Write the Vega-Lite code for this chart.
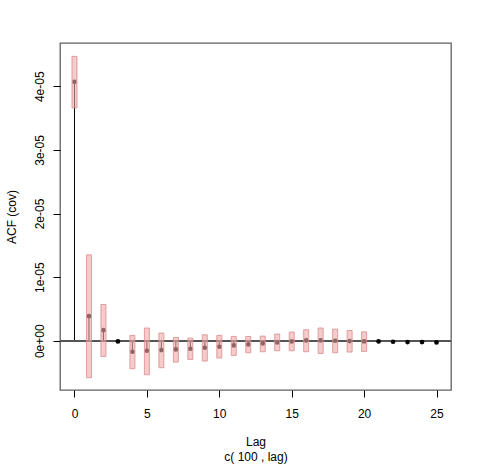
{
  "$schema": "https://vega.github.io/schema/vega-lite/v6.json",
  "width": 391,
  "height": 347,
  "autosize": {"type": "none"},
  "padding": {"left": 60, "top": 43, "right": 34, "bottom": 86},
  "background": "white",
  "config": {
    "view": {"stroke": "#606060", "strokeWidth": 1.3},
    "font": "Liberation Sans"
  },
  "data": {
    "values": [
      {"lag": 0, "acf": 4.07e-5, "lo": 3.66e-5, "hi": 4.47e-5},
      {"lag": 1, "acf": 0.387e-5, "lo": -0.58e-5, "hi": 1.35e-5},
      {"lag": 2, "acf": 0.167e-5, "lo": -0.246e-5, "hi": 0.57e-5},
      {"lag": 3, "acf": -0.01e-5, "lo": null, "hi": null},
      {"lag": 4, "acf": -0.173e-5, "lo": -0.44e-5, "hi": 0.084e-5},
      {"lag": 5, "acf": -0.157e-5, "lo": -0.534e-5, "hi": 0.2e-5},
      {"lag": 6, "acf": -0.147e-5, "lo": -0.424e-5, "hi": 0.12e-5},
      {"lag": 7, "acf": -0.136e-5, "lo": -0.335e-5, "hi": 0.052e-5},
      {"lag": 8, "acf": -0.126e-5, "lo": -0.293e-5, "hi": 0.042e-5},
      {"lag": 9, "acf": -0.11e-5, "lo": -0.319e-5, "hi": 0.094e-5},
      {"lag": 10, "acf": -0.094e-5, "lo": -0.272e-5, "hi": 0.084e-5},
      {"lag": 11, "acf": -0.073e-5, "lo": -0.23e-5, "hi": 0.068e-5},
      {"lag": 12, "acf": -0.058e-5, "lo": -0.188e-5, "hi": 0.068e-5},
      {"lag": 13, "acf": -0.042e-5, "lo": -0.173e-5, "hi": 0.073e-5},
      {"lag": 14, "acf": -0.026e-5, "lo": -0.157e-5, "hi": 0.105e-5},
      {"lag": 15, "acf": -0.01e-5, "lo": -0.157e-5, "hi": 0.136e-5},
      {"lag": 16, "acf": 0.005e-5, "lo": -0.173e-5, "hi": 0.173e-5},
      {"lag": 17, "acf": 0.005e-5, "lo": -0.2e-5, "hi": 0.2e-5},
      {"lag": 18, "acf": 0.0, "lo": -0.188e-5, "hi": 0.183e-5},
      {"lag": 19, "acf": -0.005e-5, "lo": -0.178e-5, "hi": 0.162e-5},
      {"lag": 20, "acf": -0.01e-5, "lo": -0.167e-5, "hi": 0.14e-5},
      {"lag": 21, "acf": -0.01e-5, "lo": null, "hi": null},
      {"lag": 22, "acf": -0.016e-5, "lo": null, "hi": null},
      {"lag": 23, "acf": -0.021e-5, "lo": null, "hi": null},
      {"lag": 24, "acf": -0.021e-5, "lo": null, "hi": null},
      {"lag": 25, "acf": -0.026e-5, "lo": null, "hi": null}
    ]
  },
  "encoding": {
    "x": {
      "field": "lag", "type": "quantitative",
      "scale": {"domain": [-1, 26], "nice": false, "zero": false, "padding": 0},
      "axis": {
        "values": [0, 5, 10, 15, 20, 25],
        "grid": false, "domain": false,
        "tickColor": "black", "tickSize": 7, "tickWidth": 1,
        "labelFontSize": 12, "labelColor": "black", "labelPadding": 11, "labelFont": "Liberation Sans",
        "labelFlush": false,
        "title": ["Lag", "c( 100 , lag)"],
        "titleFont": "Liberation Sans", "titleFontSize": 12, "titleFontWeight": "normal", "titleColor": "black",
        "titleBaseline": "alphabetic", "titleY": 55.5, "titleLineHeight": 14.5
      }
    }
  },
  "layer": [
    {
      "mark": {"type": "rule", "color": "black", "strokeWidth": 1},
      "encoding": {
        "y": {
          "field": "acf", "type": "quantitative",
          "scale": {"domain": [-0.774e-5, 4.68e-5], "nice": false, "zero": false, "padding": 0},
          "axis": {
            "values": [0, 1e-5, 2e-5, 3e-5, 4e-5],
            "labelExpr": "datum.value == 0 ? '0e+00' : round(datum.value * 1e5) + 'e-05'",
            "grid": false, "domain": false,
            "tickColor": "black", "tickSize": 7, "tickWidth": 1,
            "labelAngle": 270, "labelAlign": "center", "labelBaseline": "alphabetic",
            "labelPadding": 10, "labelFontSize": 12, "labelColor": "black", "labelFont": "Liberation Sans",
            "labelFlush": false,
            "title": "ACF (cov)",
            "titleFont": "Liberation Sans", "titleFontSize": 12, "titleFontWeight": "normal", "titleColor": "black",
            "titleAngle": 270, "titleBaseline": "alphabetic", "titleX": -45, "titleAlign": "center"
          }
        },
        "y2": {"datum": 0}
      }
    },
    {
      "mark": {"type": "rule", "color": "#555555", "strokeWidth": 1.3},
      "encoding": {"x": null, "y": {"datum": 0, "type": "quantitative"}}
    },
    {
      "mark": {"type": "point", "filled": true, "shape": "circle", "color": "black", "size": 22, "opacity": 1},
      "encoding": {"y": {"field": "acf", "type": "quantitative"}}
    },
    {
      "mark": {"type": "bar", "width": 5, "fill": "#eea8a8", "fillOpacity": 0.6, "stroke": "#d98c8c", "strokeWidth": 1, "strokeOpacity": 0.8},
      "encoding": {
        "y": {"field": "lo", "type": "quantitative"},
        "y2": {"field": "hi"}
      }
    }
  ]
}
